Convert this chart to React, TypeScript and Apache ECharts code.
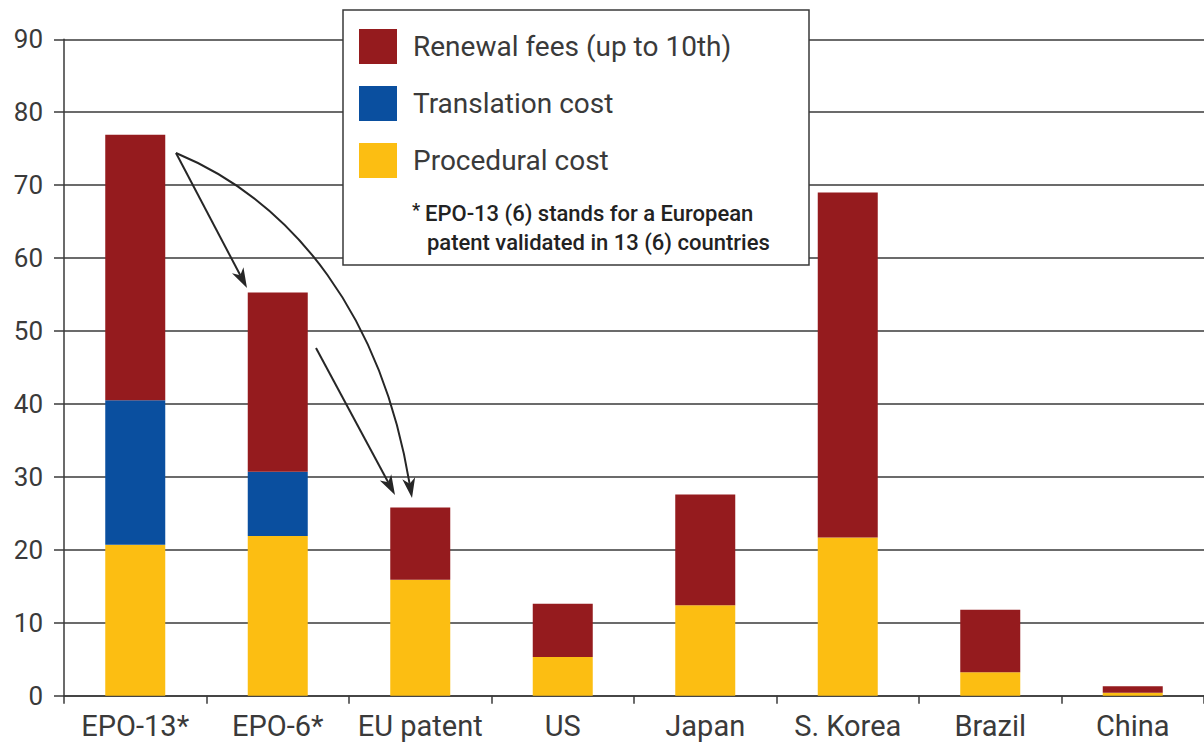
import React, { useEffect, useRef } from "react";
import * as echarts from "echarts";

const categories = ["EPO-13*", "EPO-6*", "EU patent", "US", "Japan", "S. Korea", "Brazil", "China"];
const proceduralCost = [20.7, 21.9, 15.9, 5.3, 12.4, 21.7, 3.2, 0.4];
const translationCost = [19.8, 8.8, 0, 0, 0, 0, 0, 0];
const renewalFees = [36.4, 24.6, 9.9, 7.3, 15.2, 47.3, 8.6, 0.9];
const yTicks = { min: 0, max: 90, interval: 10 };

const seriesNames = {
  renewal: "Renewal fees (up to 10th)",
  translation: "Translation cost",
  procedural: "Procedural cost",
};
const footnoteLines = ["EPO-13 (6) stands for a European", "patent validated in 13 (6) countries"];

const COLORS = { renewal: "#951b1e", translation: "#0a4f9f", procedural: "#fcbe12" };
const INK = "#3a3a3a";
const FONT = "Roboto, 'Noto Sans', sans-serif";

function arrowHead(tx: number, ty: number, fx: number, fy: number) {
  const dx = tx - fx;
  const dy = ty - fy;
  const len = Math.hypot(dx, dy);
  const ux = dx / len;
  const uy = dy / len;
  const nx = -uy;
  const ny = ux;
  const L = 20;
  const W = 6.5;
  return {
    points: [
      [tx, ty],
      [tx - L * ux + W * nx, ty - L * uy + W * ny],
      [tx - 0.72 * L * ux, ty - 0.72 * L * uy],
      [tx - L * ux - W * nx, ty - L * uy - W * ny],
    ],
    base: [tx - 0.72 * L * ux, ty - 0.72 * L * uy],
  };
}

function buildArrows() {
  const els: any[] = [];
  const lineStyle = { stroke: "#262626", lineWidth: 2, fill: null };
  const a1 = arrowHead(247, 288, 176, 153);
  els.push({ type: "line", z: 6, shape: { x1: 176, y1: 153, x2: a1.base[0], y2: a1.base[1] }, style: lineStyle });
  els.push({ type: "polygon", z: 6, shape: { points: a1.points }, style: { fill: "#262626" } });
  const a2 = arrowHead(395, 495, 316, 348);
  els.push({ type: "line", z: 6, shape: { x1: 316, y1: 348, x2: a2.base[0], y2: a2.base[1] }, style: lineStyle });
  els.push({ type: "polygon", z: 6, shape: { points: a2.points }, style: { fill: "#262626" } });
  const cp2x = 382;
  const cp2y = 318;
  const a3 = arrowHead(412, 498, cp2x, cp2y);
  els.push({
    type: "bezierCurve",
    z: 6,
    shape: { x1: 176, y1: 153, cpx1: 296, cpy1: 203, cpx2: cp2x, cpy2: cp2y, x2: a3.base[0], y2: a3.base[1] },
    style: lineStyle,
  });
  els.push({ type: "polygon", z: 6, shape: { points: a3.points }, style: { fill: "#262626" } });
  return els;
}

export default function App() {
  const ref = useRef<HTMLDivElement>(null);

  useEffect(() => {
    if (!ref.current) return;
    const chart = echarts.init(ref.current, undefined, { renderer: "svg" });
    const barBase = { type: "bar", stack: "total", barWidth: 60 };
    const footStyle = { fontSize: 22, fontWeight: 500, fill: "#222", fontFamily: FONT, verticalAlign: "middle" };
    chart.setOption({
      animation: false,
      backgroundColor: "#ffffff",
      textStyle: { fontFamily: FONT },
      grid: { left: 64, top: 39.3, width: 1147, height: 656.4, containLabel: false },
      legend: {
        orient: "vertical",
        left: 359,
        top: 29,
        padding: 0,
        itemWidth: 38,
        itemHeight: 35,
        itemGap: 22,
        icon: "rect",
        z: 10,
        data: [seriesNames.renewal, seriesNames.translation, seriesNames.procedural],
        textStyle: { fontSize: 28, color: INK, fontFamily: FONT, padding: [5, 0, 0, 11] },
        selectedMode: false,
      },
      xAxis: {
        type: "category",
        data: categories,
        axisLine: { show: true, lineStyle: { color: INK, width: 1.5 } },
        axisTick: { show: true, length: 8, alignWithLabel: false, lineStyle: { color: INK, width: 1.5 } },
        axisLabel: { color: INK, fontSize: 29, margin: 16, fontFamily: FONT, interval: 0 },
      },
      yAxis: {
        type: "value",
        min: yTicks.min,
        max: yTicks.max,
        interval: yTicks.interval,
        axisLine: { show: true, lineStyle: { color: INK, width: 1.5 } },
        axisTick: { show: true, length: 10, lineStyle: { color: INK, width: 1.5 } },
        axisLabel: { color: INK, fontSize: 26, margin: 21, fontFamily: FONT },
        splitLine: { show: true, lineStyle: { color: INK, width: 1.5 } },
      },
      series: [
        { ...barBase, name: seriesNames.procedural, data: proceduralCost, itemStyle: { color: COLORS.procedural } },
        { ...barBase, name: seriesNames.translation, data: translationCost, itemStyle: { color: COLORS.translation } },
        { ...barBase, name: seriesNames.renewal, data: renewalFees, itemStyle: { color: COLORS.renewal } },
      ],
      graphic: [
        {
          type: "rect",
          z: 3,
          shape: { x: 343, y: 10, width: 466, height: 255 },
          style: { fill: "#ffffff", stroke: "#3a3a3a", lineWidth: 1.5 },
        },
        {
          type: "text",
          z: 5,
          x: 412,
          y: 200,
          style: { text: "*", fontSize: 18, fontWeight: 600, fill: "#222", fontFamily: FONT },
        },
        { type: "text", z: 5, x: 425, y: 213, style: { ...footStyle, text: footnoteLines[0] } },
        { type: "text", z: 5, x: 427, y: 242, style: { ...footStyle, text: footnoteLines[1] } },
        ...buildArrows(),
      ],
    });
    return () => chart.dispose();
  }, []);

  return <div ref={ref} style={{ position: "fixed", left: 0, top: 0, width: 1204, height: 755 }} />;
}
